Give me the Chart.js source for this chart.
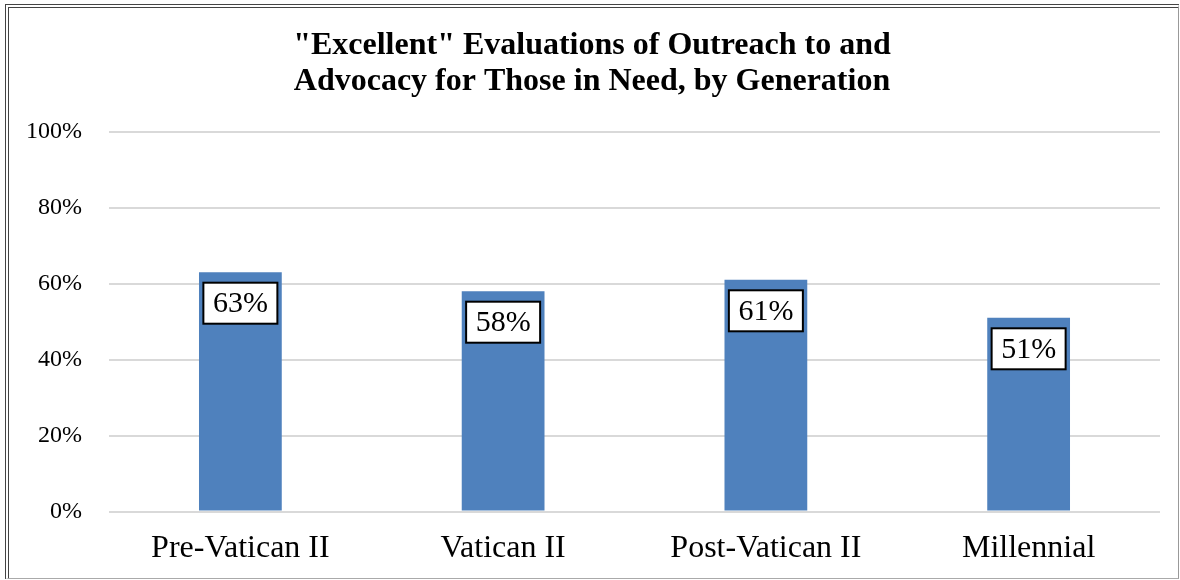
<!DOCTYPE html>
<html>
<head>
<meta charset="utf-8">
<script src="https://cdn.jsdelivr.net/npm/chart.js@4.4.0/dist/chart.umd.min.js"></script>
<style>
  html, body { margin: 0; padding: 0; background: #fff; }
  #frame {
    position: absolute; left: 5px; top: 4px;
    width: 1169px; height: 570px;
    border-left: 4px double #444; border-top: 4px double #444;
    border-right: 1px solid #999; border-bottom: 1px solid #aaa;
  }
  #wrap { position: absolute; left: 0; top: 0; width: 1169px; height: 570px; }
</style>
</head>
<body>
<div id="frame"><div id="wrap"><canvas id="chart"></canvas></div></div>
<script>
var categories = ["Pre-Vatican II", "Vatican II", "Post-Vatican II", "Millennial"];
var excellent = [63, 58, 61, 51];
var titleLines = ["\"Excellent\" Evaluations of Outreach to and", "Advocacy for Those in Need, by Generation"];
var serif = "'Liberation Serif', 'Times New Roman', serif";

// white boxed value labels drawn just under the top of each bar
var boxLabels = {
  id: "boxLabels",
  afterDatasetsDraw: function (chart) {
    var ctx = chart.ctx;
    var meta = chart.getDatasetMeta(0);
    ctx.save();
    ctx.font = "30px " + serif;
    ctx.textAlign = "center";
    ctx.textBaseline = "middle";
    meta.data.forEach(function (bar, i) {
      var txt = excellent[i] + "%";
      var w = 74, h = 41;
      var cx = bar.x, cy = bar.y + 31;
      ctx.fillStyle = "#fff";
      ctx.fillRect(cx - w / 2, cy - h / 2, w, h);
      ctx.strokeStyle = "#000";
      ctx.lineWidth = 2;
      ctx.strokeRect(cx - w / 2, cy - h / 2, w, h);
      ctx.fillStyle = "#000";
      ctx.fillText(txt, cx, cy + 1);
    });
    ctx.restore();
  }
};

new Chart(document.getElementById("chart"), {
  type: "bar",
  data: {
    labels: categories,
    datasets: [{
      data: excellent,
      backgroundColor: "#4F81BD",
      barPercentage: 0.315,
      categoryPercentage: 1
    }]
  },
  options: {
    responsive: true,
    maintainAspectRatio: false,
    animation: false,
    layout: { padding: { left: 15, right: 18, top: 9, bottom: 0 } },
    plugins: {
      legend: { display: false },
      tooltip: { enabled: false },
      title: {
        display: true,
        text: titleLines,
        color: "#000",
        font: { family: serif, size: 32, weight: "bold", lineHeight: 1.15 },
        padding: { top: 10, bottom: 31 }
      }
    },
    scales: {
      x: {
        grid: { display: false },
        border: { display: false },
        ticks: { color: "#000", font: { family: serif, size: 32 }, padding: 10 }
      },
      y: {
        min: 0, max: 100,
        afterFit: function (s) { s.width = 85; },
        ticks: {
          stepSize: 20,
          color: "#000",
          padding: 27,
          font: { family: serif, size: 24 },
          callback: function (v) { return v + "%"; }
        },
        grid: { color: "#d9d9d9", lineWidth: 2, drawTicks: false },
        border: { display: false }
      }
    }
  },
  plugins: [boxLabels]
});
</script>
</body>
</html>
